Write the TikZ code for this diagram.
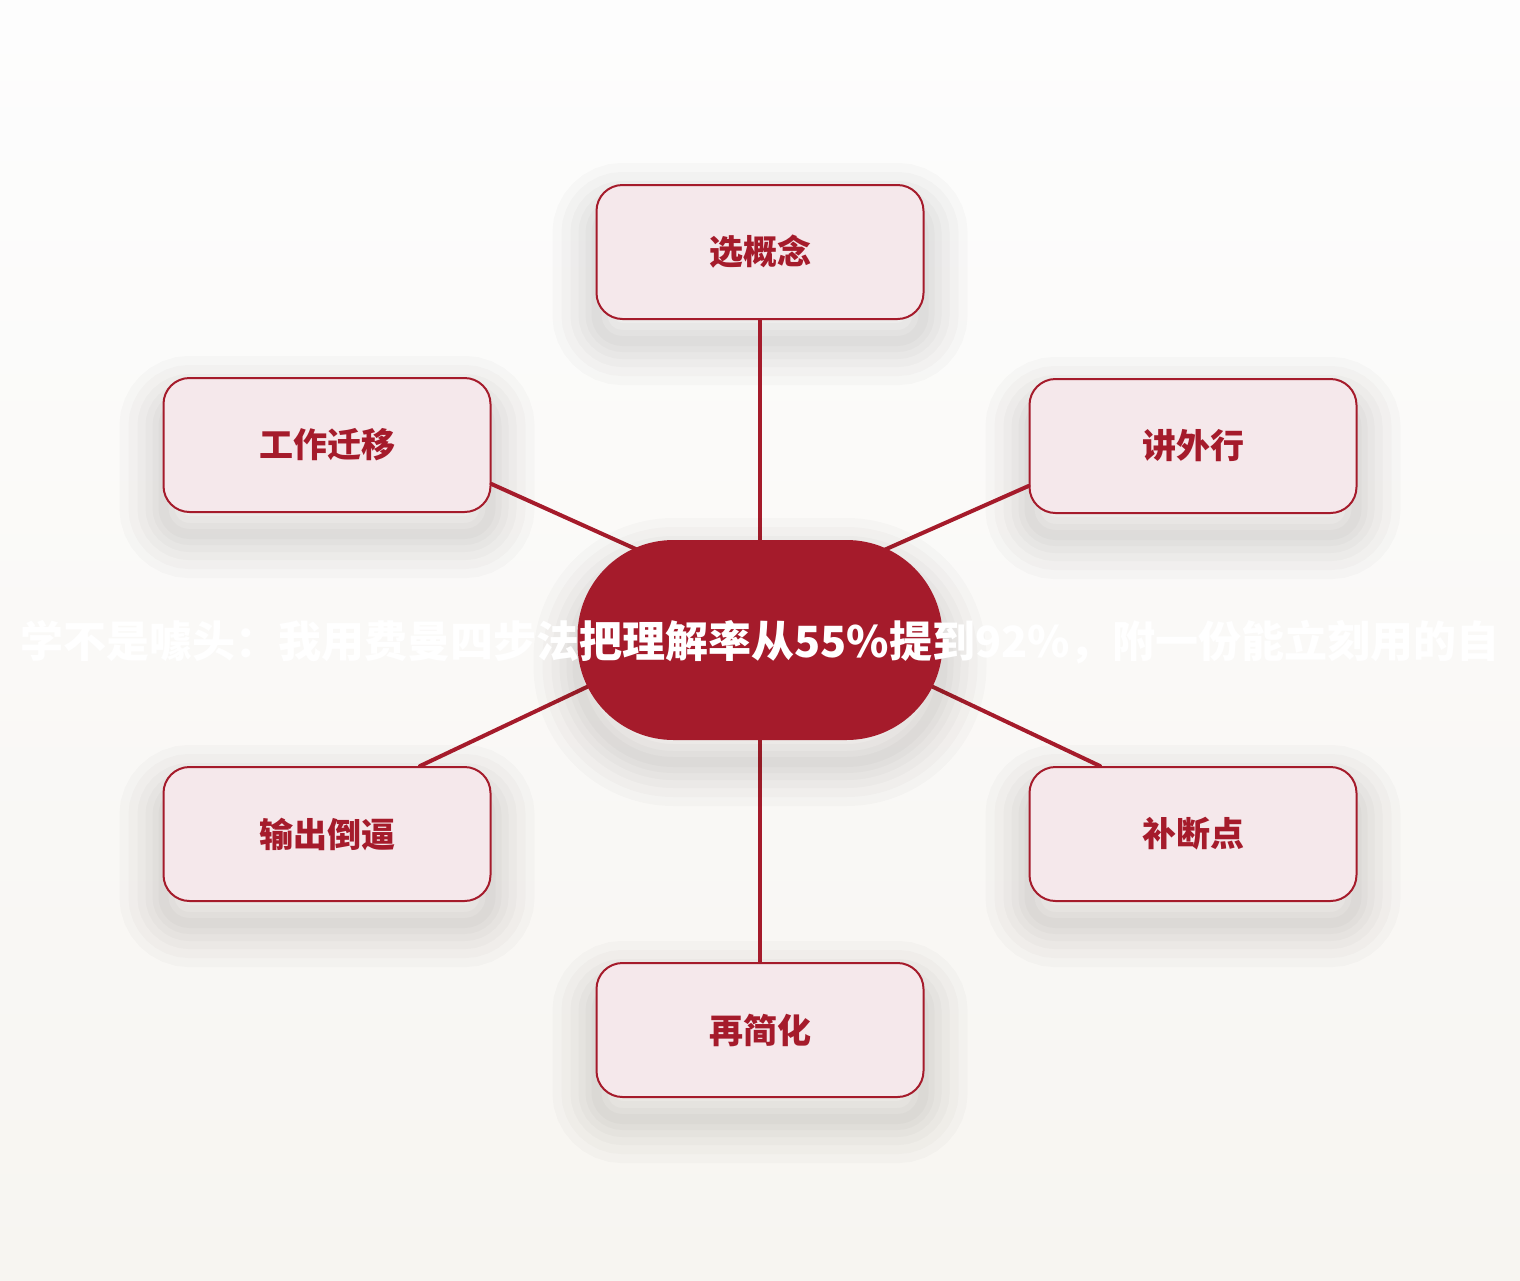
\documentclass[tikz,border=0pt]{standalone}
\usepackage{fontspec}
\setmainfont{Noto Sans CJK SC}
\definecolor{feynRed}{HTML}{A51B2B}
\definecolor{feynPink}{HTML}{F5E8EB}
\definecolor{pageTop}{HTML}{FDFDFD}
\definecolor{pageBottom}{HTML}{F7F5F1}
\definecolor{shadowGrey}{HTML}{2A2520}
\tikzstyle{softShadow} = [preaction={draw=shadowGrey, opacity=0.02, line width=44pt, transform canvas={yshift=-11pt}},
  preaction={draw=shadowGrey, opacity=0.02, line width=35pt, transform canvas={yshift=-11pt}},
  preaction={draw=shadowGrey, opacity=0.022, line width=26pt, transform canvas={yshift=-11pt}},
  preaction={draw=shadowGrey, opacity=0.025, line width=18pt, transform canvas={yshift=-11pt}},
  preaction={draw=shadowGrey, opacity=0.025, line width=11pt, transform canvas={yshift=-11pt}},
  preaction={draw=shadowGrey, opacity=0.025, line width=5pt, transform canvas={yshift=-11pt}}]
\tikzstyle{boxStep} = [rectangle, rounded corners=13pt, minimum width=163.5pt, minimum height=67pt, text centered, draw=feynRed, line width=1pt, fill=feynPink, text=feynRed, font=\fontsize{17pt}{20pt}\selectfont\bfseries, softShadow]
\tikzstyle{boxHub} = [rectangle, rounded corners=48pt, minimum width=182.5pt, minimum height=100pt, fill=feynRed, softShadow]
\tikzstyle{titleText} = [text=white, font=\fontsize{21.5pt}{24pt}\selectfont\bfseries, inner sep=0pt]
\tikzstyle{link} = [draw=feynRed, line width=2pt, line cap=round]

\begin{document}
\begin{tikzpicture}[x=0.5pt, y=-0.5pt, node distance=195pt]

\useasboundingbox (0,0) rectangle (1520,1280);
\fill[top color=pageTop, bottom color=pageBottom] (0,0) rectangle (1520,1280);

\coordinate (mid) at (760,640);
\coordinate (hubc) at (760,605);

\node (concept) [boxStep, above of=mid, yshift=-1pt] {选概念};
\node (simplify) [boxStep, below of=mid] {再简化};
\node (transfer) [boxStep, left of=mid, xshift=-21.5pt, yshift=97.5pt] {工作迁移};
\node (outsider) [boxStep, right of=mid, xshift=21.5pt, yshift=97pt] {讲外行};
\node (output) [boxStep, left of=mid, xshift=-21.5pt, yshift=-97pt] {输出倒逼};
\node (gaps) [boxStep, right of=mid, xshift=21.5pt, yshift=-97pt] {补断点};

\draw [link] (concept.south) -- (hubc);
\draw [link] (simplify.north) -- (hubc);
\draw [link] ([yshift=-19.5pt]transfer.east) -- (hubc);
\draw [link] ([yshift=-20pt]outsider.west) -- (hubc);
\draw [link] ([xshift=46.5pt]output.north) -- (hubc);
\draw [link] ([xshift=-46.5pt]gaps.north) -- (hubc);

\node (hub) [boxHub] at (mid) {};
\node (title) [titleText] at ([yshift=-1pt]hub) {学不是噱头：我用费曼四步法把理解率从55\%提到92\%，附一份能立刻用的自};

\end{tikzpicture}
\end{document}
